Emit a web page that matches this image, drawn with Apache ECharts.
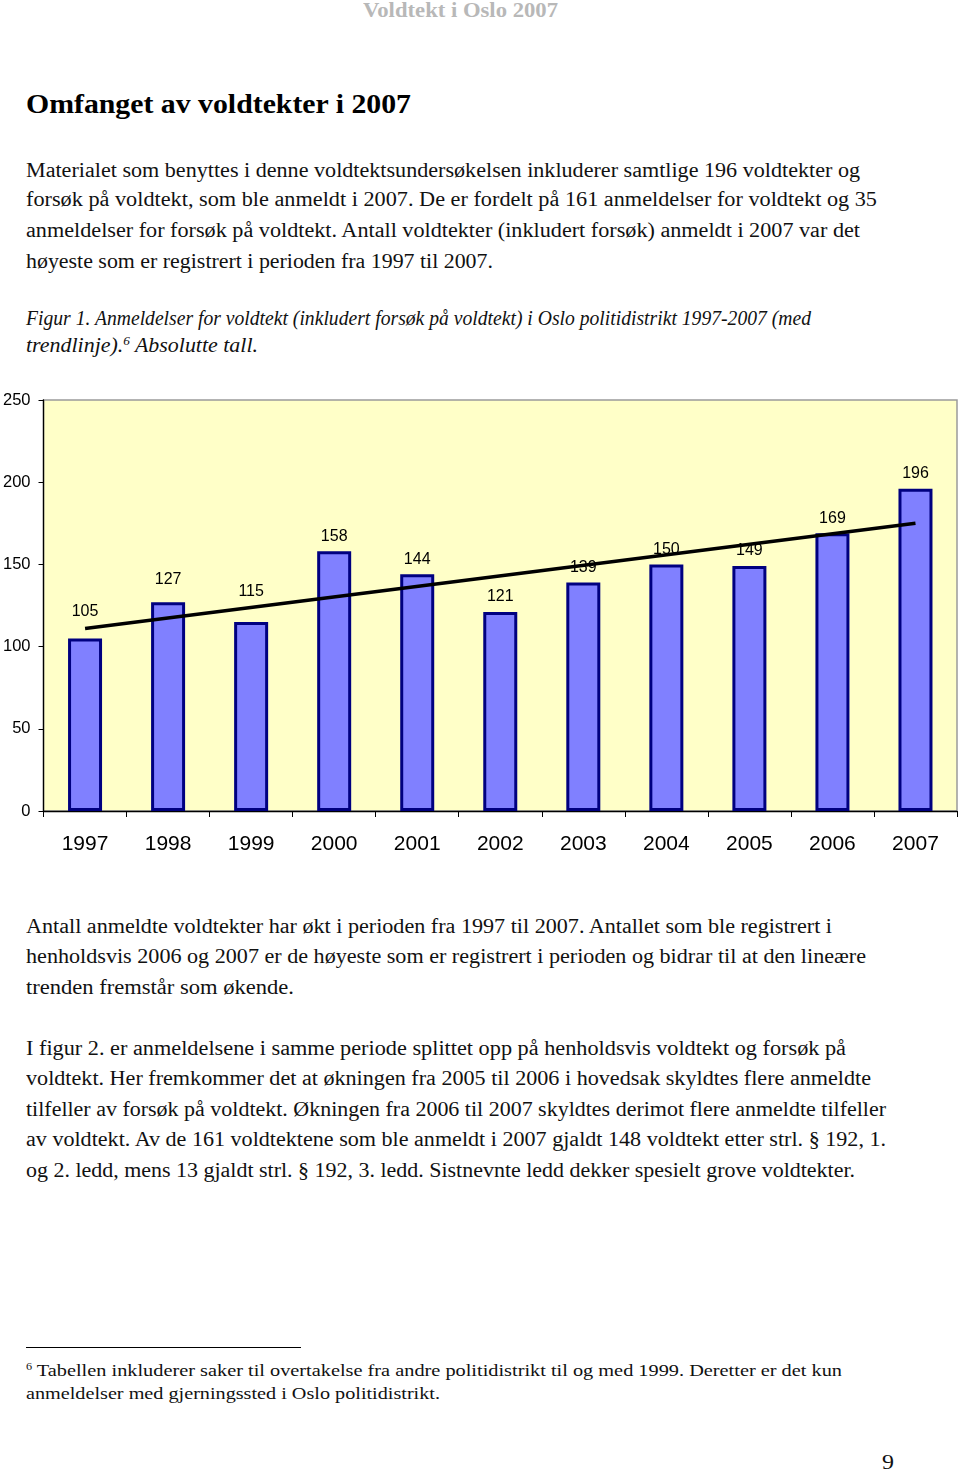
<!DOCTYPE html>
<html>
<head>
<meta charset="utf-8">
<script src="https://cdn.jsdelivr.net/npm/echarts@6/dist/echarts.min.js"></script>
<style>
  html, body { margin: 0; padding: 0; background: #fff; }
  body { width: 960px; height: 1471px; position: relative; overflow: hidden; }
  .ln { position: absolute; white-space: nowrap; font-family: "Liberation Serif", "DejaVu Serif", serif; color: #111; transform-origin: 0 50%; }
  .body { font-size: 20px; }
  .cap { font-size: 20px; font-style: italic; }
  .foot { font-size: 17px; }
  .head { font-size: 27px; font-weight: bold; color: #000; }
  .runhead { font-size: 20px; font-weight: bold; color: #b8b8b8; }
  .pnum { font-size: 22px; }
  sup { font-size: 0.6em; vertical-align: 0.55em; line-height: 0; }
  #chart { position: absolute; left: 0; top: 380px; width: 960px; height: 500px; }
  #rule { position: absolute; left: 26px; top: 1347px; width: 275px; height: 1px; background: #000; }
</style>
</head>
<body>
<div id="chart"></div>
<div id="rule"></div>
<div id="text"></div>
<script>
// ---- chart data ----
const years = ['1997','1998','1999','2000','2001','2002','2003','2004','2005','2006','2007'];
const reports = [105, 127, 115, 158, 144, 121, 139, 150, 149, 169, 196];
const trendStart = 111;   // trend line value at 1997
const trendEnd = 175;     // trend line value at 2007
const yTicks = { min: 0, max: 250, interval: 50 };

// ---- page text (layout lines) ----
const lines = [
  { t: 'Voldtekt i Oslo 2007', x: 363, y: 10, w: 195, c: 'runhead' },
  { t: 'Omfanget av voldtekter i 2007', x: 26, y: 104, w: 385, c: 'head' },
  { t: 'Materialet som benyttes i denne voldtektsundersøkelsen inkluderer samtlige 196 voldtekter og', x: 26, y: 170, w: 834, c: 'body' },
  { t: 'forsøk på voldtekt, som ble anmeldt i 2007. De er fordelt på 161 anmeldelser for voldtekt og 35', x: 26, y: 199, w: 851, c: 'body' },
  { t: 'anmeldelser for forsøk på voldtekt. Antall voldtekter (inkludert forsøk) anmeldt i 2007 var det', x: 26, y: 230, w: 834, c: 'body' },
  { t: 'høyeste som er registrert i perioden fra 1997 til 2007.', x: 26, y: 261, w: 467, c: 'body' },
  { t: 'Figur 1. Anmeldelser for voldtekt (inkludert forsøk på voldtekt) i Oslo politidistrikt 1997-2007 (med', x: 26, y: 318, w: 785, c: 'cap' },
  { h: 'trendlinje).<sup>6</sup> Absolutte tall.', x: 26, y: 345, w: 232, c: 'cap' },
  { t: 'Antall anmeldte voldtekter har økt i perioden fra 1997 til 2007. Antallet som ble registrert i', x: 26, y: 926, w: 806, c: 'body' },
  { t: 'henholdsvis 2006 og 2007 er de høyeste som er registrert i perioden og bidrar til at den lineære', x: 26, y: 956, w: 840, c: 'body' },
  { t: 'trenden fremstår som økende.', x: 26, y: 987, w: 268, c: 'body' },
  { t: 'I figur 2. er anmeldelsene i samme periode splittet opp på henholdsvis voldtekt og forsøk på', x: 26, y: 1048, w: 820, c: 'body' },
  { t: 'voldtekt. Her fremkommer det at økningen fra 2005 til 2006 i hovedsak skyldtes flere anmeldte', x: 26, y: 1078, w: 845, c: 'body' },
  { t: 'tilfeller av forsøk på voldtekt. Økningen fra 2006 til 2007 skyldtes derimot flere anmeldte tilfeller', x: 26, y: 1109, w: 860, c: 'body' },
  { t: 'av voldtekt. Av de 161 voldtektene som ble anmeldt i 2007 gjaldt 148 voldtekt etter strl. § 192, 1.', x: 26, y: 1139, w: 860, c: 'body' },
  { t: 'og 2. ledd, mens 13 gjaldt strl. § 192, 3. ledd. Sistnevnte ledd dekker spesielt grove voldtekter.', x: 26, y: 1170, w: 829, c: 'body' },
  { h: '<sup>6</sup> Tabellen inkluderer saker til overtakelse fra andre politidistrikt til og med 1999. Deretter er det kun', x: 26, y: 1371, w: 816, c: 'foot' },
  { t: 'anmeldelser med gjerningssted i Oslo politidistrikt.', x: 26, y: 1394, w: 414, c: 'foot' },
  { t: '9', x: 882, y: 1462, w: 12, c: 'pnum' }
];

const holder = document.getElementById('text');
const els = lines.map(l => {
  const d = document.createElement('div');
  d.className = 'ln ' + l.c;
  if (l.h) d.innerHTML = l.h; else d.textContent = l.t;
  holder.appendChild(d);
  return d;
});
function fit() {
  els.forEach((d, i) => {
    const l = lines[i];
    d.style.transform = 'none';
    const r = d.getBoundingClientRect();
    d.style.left = l.x + 'px';
    d.style.top = (l.y - r.height / 2) + 'px';
    d.style.transform = 'scaleX(' + (l.w / r.width) + ')';
  });
}
fit();
if (document.fonts && document.fonts.ready) document.fonts.ready.then(fit);

// ---- chart ----
const labelLift = { 0: 19, 1: 15, 2: 22 };
const chart = echarts.init(document.getElementById('chart'), null, { renderer: 'canvas' });
chart.setOption({
  animation: false,
  textStyle: { fontFamily: 'Liberation Sans, Arial, sans-serif' },
  grid: {
    left: 43, right: 3, top: 20, height: 411,
    show: true, backgroundColor: '#FFFFC8', borderColor: '#9a9a9a', borderWidth: 1.5
  },
  xAxis: {
    type: 'category', data: years, boundaryGap: true,
    axisLine: { lineStyle: { color: '#000', width: 1.3 } },
    axisTick: { show: true, length: 6, inside: false, alignWithLabel: false, lineStyle: { color: '#000' } },
    axisLabel: { color: '#000', fontSize: 21, margin: 23 },
    splitLine: { show: false }
  },
  yAxis: {
    type: 'value', min: yTicks.min, max: yTicks.max, interval: yTicks.interval,
    axisLine: { show: true, lineStyle: { color: '#000', width: 1.3 } },
    axisTick: { show: true, length: 5, inside: false, lineStyle: { color: '#000' } },
    axisLabel: { color: '#000', fontSize: 16.5, margin: 13 },
    splitLine: { show: false }
  },
  series: [{
    type: 'bar',
    z: 2,
    barWidth: 34,
    data: reports.map((v, i) => ({
      value: v,
      label: labelLift[i] !== undefined ? { distance: labelLift[i] } : undefined
    })),
    itemStyle: { color: '#8080FF', borderColor: '#000080', borderWidth: 3 },
    label: { show: true, position: 'top', distance: 7, color: '#000', fontSize: 16 },
    markLine: {
      silent: true, symbol: 'none', z: 10,
      label: { show: false },
      lineStyle: { color: '#000', width: 3.5, type: 'solid' },
      data: [[{ coord: [years[0], trendStart] }, { coord: [years[years.length - 1], trendEnd] }]]
    }
  }]
});
</script>
</body>
</html>
